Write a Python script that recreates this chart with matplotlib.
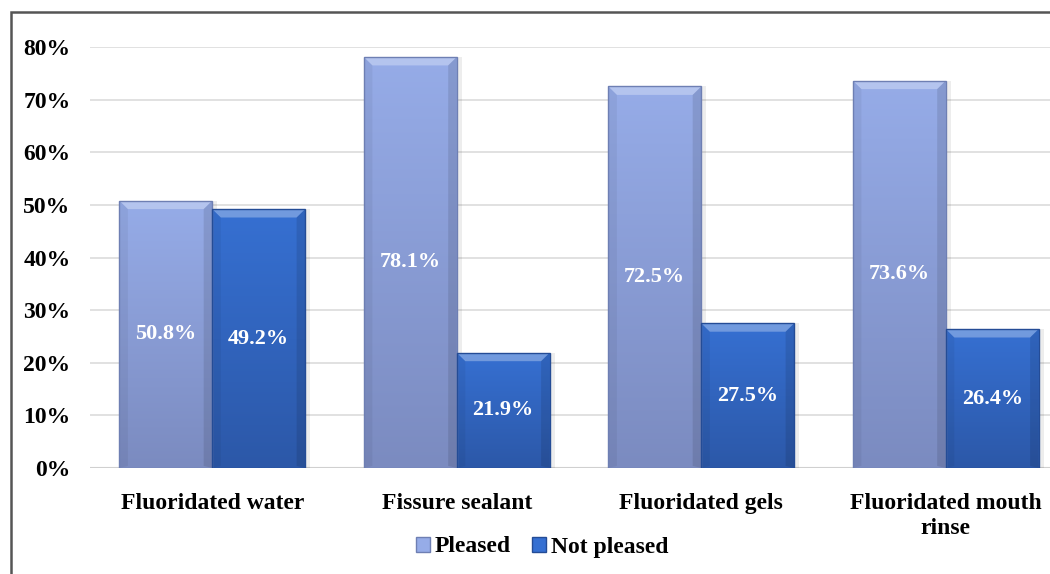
import matplotlib.pyplot as plt
import numpy as np
from matplotlib.patches import Rectangle, Polygon
from matplotlib.colors import LinearSegmentedColormap

categories = ["Fluoridated water", "Fissure sealant", "Fluoridated gels",
              "Fluoridated mouth\nrinse"]
pleased = [50.8, 78.1, 72.5, 73.6]
not_pleased = [49.2, 21.9, 27.5, 26.4]
series_names = ["Pleased", "Not pleased"]
yticks = [0, 10, 20, 30, 40, 50, 60, 70, 80]

W, H = 1050, 574
fig = plt.figure(figsize=(W / 100, H / 100), dpi=100)
serif = ["Liberation Serif", "DejaVu Serif"]

# axes placed in pixels: left edge at 90, zero line at 468, 80% at 47
ax = fig.add_axes([90 / W, (H - 468) / H, 978 / W, 421 / H])
ax.set_xlim(-0.5, 3.5)
ax.set_ylim(0, 80)

grads = {
    "Pleased": ("#96ACE8", "#7B8BC0", "#6E7FB3"),
    "Not pleased": ("#3670D2", "#2C58A8", "#244C96"),
}


def gradient_bars(ax, xs, vals, width, name):
    top, bottom, edge = grads[name]
    cmap = LinearSegmentedColormap.from_list(name, [bottom, top])
    bars = ax.bar(xs, vals, width, color="none", edgecolor=edge,
                  linewidth=1.0, zorder=3, label=name)
    grad = np.linspace(0, 1, 256).reshape(-1, 1)
    for b in bars:
        x0, y0 = b.get_x(), b.get_y()
        w, h = b.get_width(), b.get_height()
        # soft shadow on the right side of each bar
        ax.add_patch(Rectangle((x0 + w, 0), 0.02, h, color="#000000",
                               alpha=0.07, lw=0, zorder=2))
        im = ax.imshow(grad, cmap=cmap, aspect="auto", origin="lower",
                       extent=(x0, x0 + w, y0, y0 + h), zorder=2.5)
        im.set_clip_path(b)
        # bevel: lighter top face, darker side faces
        d, dy = 0.035, 1.6
        ax.add_patch(Polygon([(x0, h), (x0 + w, h), (x0 + w - d, h - dy),
                              (x0 + d, h - dy)], closed=True, color="white",
                             alpha=0.3, lw=0, zorder=2.6))
        ax.add_patch(Polygon([(x0 + w, h), (x0 + w, 0), (x0 + w - d, 0.4),
                              (x0 + w - d, h - dy)], closed=True,
                             color="black", alpha=0.1, lw=0, zorder=2.6))
        ax.add_patch(Polygon([(x0, h), (x0, 0), (x0 + d, 0.4),
                              (x0 + d, h - dy)], closed=True,
                             color="black", alpha=0.05, lw=0, zorder=2.6))
    return bars


x = np.arange(len(categories))
bw = 0.38
gradient_bars(ax, x - bw / 2, pleased, bw, "Pleased")
gradient_bars(ax, x + bw / 2, not_pleased, bw, "Not pleased")

for xi, v in zip(x - bw / 2, pleased):
    ax.text(xi, v / 2, f"{v:.1f}%", ha="center", va="center", color="white",
            fontsize=16, fontweight="bold", family=serif, zorder=4)
for xi, v in zip(x + bw / 2, not_pleased):
    ax.text(xi, v / 2, f"{v:.1f}%", ha="center", va="center", color="white",
            fontsize=16, fontweight="bold", family=serif, zorder=4)

ax.set_yticks(yticks)
ax.set_yticklabels([f"{t}%" for t in yticks], fontsize=17,
                   fontweight="bold", family=serif)
ax.set_xticks(x)
ax.set_xticklabels(categories, fontsize=17, fontweight="bold", family=serif,
                   linespacing=1.25)
ax.tick_params(axis="both", length=0)
ax.tick_params(axis="y", pad=14)
ax.tick_params(axis="x", pad=18)
ax.grid(axis="y", color="#DCDCDC", linewidth=1.2, zorder=0)
ax.set_axisbelow(True)
for s in ax.spines.values():
    s.set_visible(False)
ax.axhline(0, color="#D0D0D0", linewidth=1.5, zorder=1)

leg = fig.legend(loc="center", bbox_to_anchor=(542 / W, (H - 547) / H),
                 ncol=2, frameon=False, handlelength=0.6, handleheight=0.6,
                 handletextpad=0.2, columnspacing=0.9,
                 prop={"family": serif, "weight": "bold", "size": 17})
for h, name in zip(leg.legend_handles, series_names):
    h.set_facecolor(grads[name][0])
    h.set_edgecolor(grads[name][2])

# outer frame around the chart, running off the right and bottom edges
fig.add_artist(Rectangle((11 / W, -0.1), 1.2, (H - 12) / H + 0.1,
                         transform=fig.transFigure, fill=False,
                         edgecolor="#555555", linewidth=1.8))

fig.savefig("out.png", dpi=100)
